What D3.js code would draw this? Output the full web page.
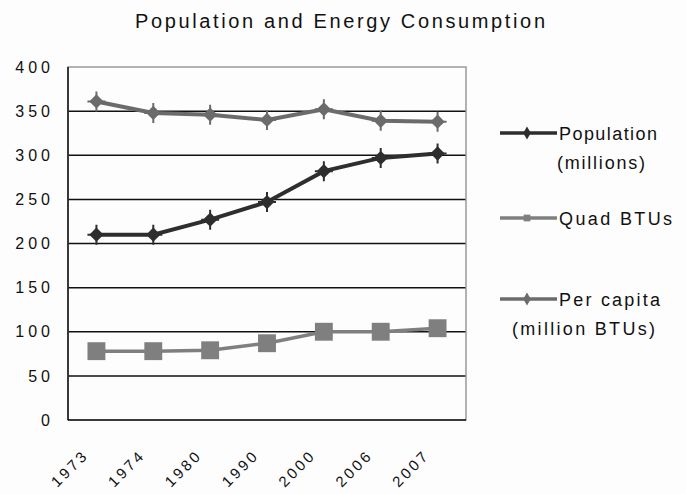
<!DOCTYPE html>
<html>
<head>
<meta charset="utf-8">
<script src="https://cdn.jsdelivr.net/npm/d3@7"></script>
<style>
  body { margin: 0; background: #fdfdfd; }
  text { font-family: 'Liberation Sans', Arial, sans-serif; fill: #111; }
</style>
</head>
<body>
<svg id="chart" width="686" height="494"></svg>
<script>
const years = ['1973', '1974', '1980', '1990', '2000', '2006', '2007']
const population = [210, 210, 227, 247, 282, 297, 302]
const quadBtus = [78, 78, 79, 87, 100, 100, 104]
const perCapita = [361, 348, 346, 340, 352, 339, 338]
const yTicks = [0, 50, 100, 150, 200, 250, 300, 350, 400]

const svg = d3.select('#chart')
const plot = { left: 68, right: 466, top: 67, bottom: 420 }
const font = "'Liberation Sans', Arial, sans-serif"

const x = d3.scaleBand()
  .domain(years)
  .range([plot.left, plot.right])

const y = d3.scaleLinear()
  .domain([0, 400])
  .range([plot.bottom, plot.top])

svg.append('text')
  .attr('x', 135)
  .attr('y', 28)
  .attr('font-size', 20)
  .attr('textLength', 410)
  .attr('lengthAdjust', 'spacing')
  .text('Population and Energy Consumption')

// gridlines
svg.append('g')
  .selectAll('line')
  .data(yTicks.slice(1, -1))
  .enter()
  .append('line')
  .attr('x1', plot.left)
  .attr('x2', plot.right)
  .attr('y1', d => y(d))
  .attr('y2', d => y(d))
  .attr('stroke', '#111')
  .attr('stroke-width', 1.5)

// frame
svg.append('rect')
  .attr('x', plot.left)
  .attr('y', plot.top)
  .attr('width', plot.right - plot.left)
  .attr('height', plot.bottom - plot.top)
  .attr('fill', 'none')
  .attr('stroke', '#999')
  .attr('stroke-width', 1.5)

svg.append('line')
  .attr('x1', plot.left).attr('x2', plot.left)
  .attr('y1', plot.top).attr('y2', plot.bottom)
  .attr('stroke', '#111').attr('stroke-width', 1.5)
svg.append('line')
  .attr('x1', plot.left).attr('x2', plot.right)
  .attr('y1', plot.bottom).attr('y2', plot.bottom)
  .attr('stroke', '#111').attr('stroke-width', 1.5)

// y axis labels
const yAxis = d3.axisLeft(y).tickValues(yTicks).tickSize(0).tickPadding(14)
svg.append('g')
  .attr('transform', `translate(${plot.left},0)`)
  .call(yAxis)
  .call(g => g.select('.domain').remove())
  .selectAll('text')
  .attr('font-size', 16)
  .attr('letter-spacing', 4)
  .attr('font-family', font)
  .attr('fill', '#111')

// x axis labels
const xAxis = d3.axisBottom(x).tickSize(0).tickPadding(0)
svg.append('g')
  .attr('transform', `translate(0,${plot.bottom})`)
  .call(xAxis)
  .call(g => g.select('.domain').remove())
  .selectAll('text')
  .attr('font-size', 15)
  .attr('letter-spacing', 3)
  .attr('font-family', font)
  .attr('fill', '#111')
  .attr('text-anchor', 'end')
  .attr('y', 0)
  .attr('dy', 0)
  .attr('transform', 'translate(-7,36) rotate(-45)')

const cx = d => x(d) + x.bandwidth() / 2
const line = d3.line()
  .x((d, i) => cx(years[i]))
  .y(d => y(d))

const diamond = d3.symbol().type(d3.symbolDiamond2).size(130)
const square = d3.symbol().type(d3.symbolSquare).size(320)

const series = [
  { name: 'quad', values: quadBtus, color: '#7f7f7f', symbol: square, width: 3.5 },
  { name: 'pop', values: population, color: '#2e2e2e', symbol: diamond, width: 4 },
  { name: 'percap', values: perCapita, color: '#6b6b6b', symbol: diamond, width: 4 }
]

series.forEach(s => {
  svg.append('path')
    .datum(s.values)
    .attr('d', line)
    .attr('fill', 'none')
    .attr('stroke', s.color)
    .attr('stroke-width', s.width)

  const marks = svg.append('g')
    .selectAll('g')
    .data(s.values)
    .enter()
    .append('g')
    .attr('transform', (d, i) => `translate(${cx(years[i])},${y(d)})`)
  marks.append('path')
    .attr('d', s.symbol)
    .attr('fill', s.color)
  if (s.symbol === diamond) {
    // small tick cross through the diamond like the original markers
    marks.append('path')
      .attr('d', 'M0,-10V10M-9,0H9')
      .attr('stroke', s.color)
      .attr('stroke-width', 2)
  }
})

// legend
const legendItems = [
  { lines: ['Population', '(millions)'], color: '#2e2e2e', symbol: d3.symbol().type(d3.symbolDiamond).size(50), y: 133, sub: 557, widths: [98, 88] },
  { lines: ['Quad BTUs'], color: '#7f7f7f', symbol: d3.symbol().type(d3.symbolSquare).size(45), y: 218, widths: [113] },
  { lines: ['Per capita', '(million BTUs)'], color: '#6b6b6b', symbol: d3.symbol().type(d3.symbolDiamond).size(50), y: 299, sub: 512, widths: [101, 143] }
]

const legend = svg.append('g')
legendItems.forEach(item => {
  const g = legend.append('g').attr('transform', `translate(0,${item.y})`)
  g.append('line')
    .attr('x1', 500).attr('x2', 557)
    .attr('stroke', item.color).attr('stroke-width', 3.5)
  g.append('path')
    .attr('d', item.symbol)
    .attr('transform', 'translate(527,0)')
    .attr('fill', item.color)
  g.append('text')
    .attr('x', 559)
    .attr('y', 7)
    .attr('font-size', 18)
    .attr('textLength', item.widths[0])
    .attr('lengthAdjust', 'spacing')
    .text(item.lines[0])
  if (item.lines[1]) {
    g.append('text')
      .attr('x', item.sub)
      .attr('y', 36)
      .attr('font-size', 18)
      .attr('textLength', item.widths[1])
      .attr('lengthAdjust', 'spacing')
      .text(item.lines[1])
  }
})
</script>
</body>
</html>
